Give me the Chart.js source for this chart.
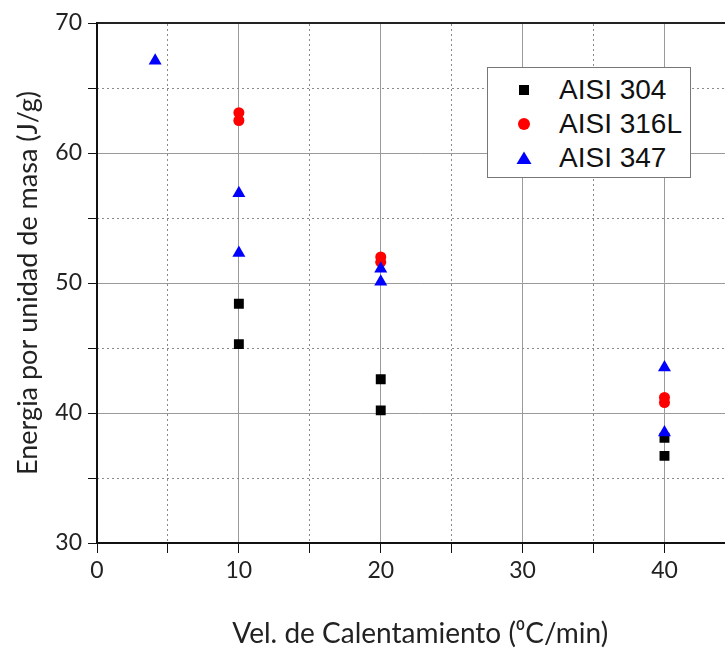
<!DOCTYPE html>
<html>
<head>
<meta charset="utf-8">
<script src="https://cdn.jsdelivr.net/npm/chart.js@4.4.1/dist/chart.umd.min.js"></script>
<style>
  html, body { margin: 0; padding: 0; background: #fff; overflow: hidden; }
  #wrap { position: relative; width: 725px; height: 648px; overflow: hidden; }
  #legend { position: absolute; left: 487px; top: 67px; width: 202px; height: 109px;
    border: 1.5px solid #777; background: #fff; font-family: "Liberation Sans", Arial, sans-serif;
    font-size: 28px; color: #111; box-sizing: content-box; }
  .row { position: absolute; left: 0; height: 34px; line-height: 34px; white-space: nowrap; }
  .row svg { position: absolute; left: 26px; top: 9px; }
  .row span { position: absolute; left: 71px; }
</style>
</head>
<body>
<div id="wrap">
  <canvas id="c" width="751" height="648"></canvas>
  <div id="legend"></div>
</div>
<script>
// ---- data ----
const seriesNames = ["AISI 304", "AISI 316L", "AISI 347"];
const x304  = [10, 10, 20, 20, 40, 40];
const y304  = [48.4, 45.3, 42.6, 40.2, 38.1, 36.7];
const x316L = [10, 10, 20, 20, 40, 40];
const y316L = [63.1, 62.5, 52.0, 51.6, 41.2, 40.8];
const x347  = [4.1, 10, 10, 20, 20, 40, 40];
const y347  = [67.1, 56.9, 52.3, 51.1, 50.1, 43.5, 38.5];
const xTickValues = [0, 10, 20, 30, 40];
const yTickValues = [30, 40, 50, 60, 70];

const toPts = (xs, ys) => xs.map((x, i) => ({ x: x, y: ys[i] }));

const major = (v, list) => list.indexOf(v) !== -1;
const tickFont = { family: "Lato, 'Open Sans', sans-serif", size: 23 };
const xTitleFont = { family: "Lato, 'Open Sans', sans-serif", size: 28, lineHeight: 1 };
const yTitleFont = { family: "Lato, 'Open Sans', sans-serif", size: 27, lineHeight: 1 };

const XMIN = 0, XMAX = 45.57, YMIN = 30, YMAX = 70;

new Chart(document.getElementById('c'), {
  type: 'scatter',
  data: {
    datasets: [
      { label: seriesNames[0], data: toPts(x304, y304), pointStyle: 'rect', pointRadius: 7,
        backgroundColor: '#000', borderColor: '#000', borderWidth: 0, order: 2 },
      { label: seriesNames[1], data: toPts(x316L, y316L), pointStyle: 'circle', pointRadius: 5.5,
        backgroundColor: '#ff0000', borderColor: '#ff0000', borderWidth: 0, order: 1 },
      { label: seriesNames[2], data: toPts(x347, y347), pointStyle: 'triangle', pointRadius: 7.5,
        backgroundColor: '#0000ff', borderColor: '#0000ff', borderWidth: 0, order: 0 }
    ]
  },
  options: {
    responsive: false,
    animation: false,
    events: [],
    layout: { padding: { left: 0, top: 23, right: 0, bottom: 0 } },
    plugins: { legend: { display: false }, tooltip: { enabled: false } },
    scales: {
      x: {
        type: 'linear', position: 'bottom', min: XMIN, max: XMAX,
        afterFit: s => { s.height = 105; },
        ticks: {
          stepSize: 5, includeBounds: false, maxRotation: 0, autoSkip: false,
          font: tickFont, color: '#222', padding: 4,
          callback: v => major(v, xTickValues) ? String(v) : ''
        },
        grid: {
          color: c => (c.tick && major(c.tick.value, xTickValues)) ? '#9a9a9a' : 'rgba(0,0,0,0)',
          tickColor: '#111', tickLength: 10, lineWidth: 1
        },
        border: { display: true, color: '#111', width: 2 },
        title: { display: true, text: 'Vel. de Calentamiento (\u2070C/min)', font: xTitleFont, color: '#222',
          padding: { top: 0, bottom: 0 } }
      },
      xTop: {
        type: 'linear', position: 'top', min: XMIN, max: XMAX,
        afterFit: s => { s.height = 0; },
        ticks: { display: false, stepSize: 5, includeBounds: false },
        grid: {
          drawTicks: false,
          color: c => (c.tick && !major(c.tick.value, xTickValues)) ? '#8a8a8a' : 'rgba(0,0,0,0)',
          lineWidth: 1
        },
        border: { display: true, color: '#222', width: 2, dash: [2, 3] }
      },
      y: {
        type: 'linear', position: 'left', min: YMIN, max: YMAX,
        afterFit: s => { s.width = 97; },
        ticks: {
          stepSize: 5, includeBounds: false, autoSkip: false,
          font: tickFont, color: '#222', padding: 6,
          callback: v => major(v, yTickValues) ? String(v) : ''
        },
        grid: {
          color: c => (c.tick && major(c.tick.value, yTickValues)) ? '#9a9a9a' : 'rgba(0,0,0,0)',
          tickColor: '#111', tickLength: 9, lineWidth: 1
        },
        border: { display: true, color: '#111', width: 2 },
        title: { display: true, text: 'Energia por unidad de masa (J/g)', font: yTitleFont, color: '#222',
          padding: { top: 15, bottom: 0 } }
      },
      yRight: {
        type: 'linear', position: 'right', min: YMIN, max: YMAX,
        afterFit: s => { s.width = 0; },
        ticks: { display: false, stepSize: 5, includeBounds: false },
        grid: {
          drawTicks: false,
          color: c => (c.tick && !major(c.tick.value, yTickValues)) ? '#8a8a8a' : 'rgba(0,0,0,0)',
          lineWidth: 1
        },
        border: { display: false, dash: [2, 3] }
      }
    }
  }
});

// ---- HTML legend ----
const markers = [
  '<svg width="20" height="16"><rect x="5" y="3" width="10" height="10" fill="#000"/></svg>',
  '<svg width="20" height="16"><circle cx="10" cy="8" r="6" fill="#ff0000"/></svg>',
  '<svg width="20" height="16"><polygon points="10,1.5 17.5,14 2.5,14" fill="#0000ff"/></svg>'
];
const lg = document.getElementById('legend');
seriesNames.forEach((n, i) => {
  const r = document.createElement('div');
  r.className = 'row';
  r.style.top = (5 + i * 34) + 'px';
  r.innerHTML = markers[i] + '<span>' + n + '</span>';
  lg.appendChild(r);
});
</script>
</body>
</html>
